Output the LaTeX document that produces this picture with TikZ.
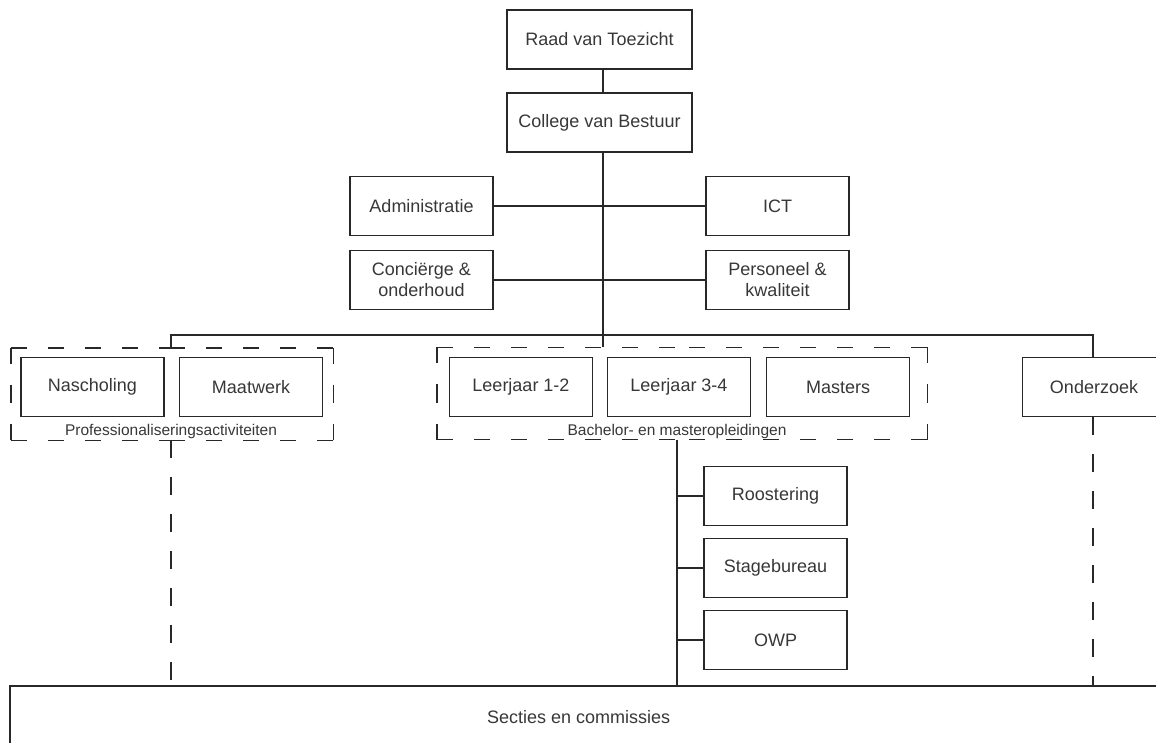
\documentclass[tikz,border=0pt]{standalone}
\usepackage{fontspec}
\setmainfont{Liberation Sans}
\definecolor{ln}{RGB}{40,40,40}
\definecolor{tx}{RGB}{55,55,55}
\begin{document}
\begin{tikzpicture}[x=1pt,y=-1pt,
  box/.style={draw=ln, line width=1.4pt, minimum width=143pt, minimum height=59pt, inner sep=0pt,
    align=center, text=tx, font=\fontsize{18}{21}\selectfont},
  wbox/.style={box, minimum width=185pt},
  grp/.style={draw=none, inner sep=0pt},
  gline/.style={draw=ln, line width=1.4pt, dash pattern=on 16pt off 21pt},
  lbl/.style={text=tx, font=\fontsize{15.5}{17}\selectfont, inner sep=0pt},
  conn/.style={draw=ln, line width=1.4pt},
  dconn/.style={conn, dash pattern=on 18pt off 19pt}]
\useasboundingbox (0,0) rectangle (1156,742);
\clip (0,0) rectangle (1156,742);
% top
\node[wbox] (raad) at (599.5,39.5) {Raad van Toezicht};
\node[wbox] (cvb) at (599.5,122.5) {College van Bestuur};
\node[box] (adm) at (421.5,206) {Administratie};
\node[box] (ict) at (777.5,206) {ICT};
\node[box] (conc) at (421.5,280) {Conciërge \&\\onderhoud};
\node[box] (pers) at (777.5,280) {Personeel \&\\kwaliteit};
% groups
\node[grp, minimum width=322pt, minimum height=92pt] (prof) at (172,394) {};
\node[grp, minimum width=490pt, minimum height=92pt] (bach) at (682,393.5) {};
\foreach \g in {prof,bach}{
  \draw[gline] (\g.north west) -- (\g.north);
  \draw[gline] (\g.north east) -- (\g.north);
  \draw[gline] (\g.south west) -- (\g.south);
  \draw[gline] (\g.south east) -- (\g.south);
  \draw[gline] (\g.north west) -- (\g.west);
  \draw[gline] (\g.south west) -- (\g.west);
  \draw[gline] (\g.north east) -- (\g.east);
  \draw[gline] (\g.south east) -- (\g.east);
}
\node[box] (nasch) at (92.5,387) {Nascholing};
\node[box] (maat) at (251,387) {Maatwerk};
\node[box] (l12) at (521,387) {Leerjaar 1-2};
\node[box] (l34) at (679,387) {Leerjaar 3-4};
\node[box] (mast) at (838,387) {Masters};
\node[box] (onder) at (1094,387) {Onderzoek};
\node[lbl] (proflbl) at (171,431) {Professionaliseringsactiviteiten};
\node[lbl] (bachlbl) at (677,431) {Bachelor- en masteropleidingen};
% support
\node[box] (roost) at (775.5,496) {Roostering};
\node[box] (stage) at (775.5,568) {Stagebureau};
\node[box] (owp) at (775.5,640) {OWP};
% bottom
\node[box, draw=none, anchor=north west, minimum width=1136pt, minimum height=60pt] (secties) at (10,686) {Secties en commissies};
\draw[conn] (secties.north west) ++(0,80) -- (secties.north west) -- ++(1170,0);
% coordinates
\coordinate (spine) at (603,0);
\coordinate (busL) at (171,335);
\coordinate (busR) at (1093,335);
\coordinate (trunk) at (677,0);
% connectors
\draw[conn] (raad.south -| spine) -- (cvb.north -| spine);
\draw[conn] (cvb.south -| spine) -- (bach.north -| spine);
\draw[conn] (adm.east) -- (ict.west);
\draw[conn] (conc.east) -- (pers.west);
\draw[conn] (prof.north -| busL) -- (busL) -- (busR) -- (onder.north -| busR);
\draw[dconn] (prof.south -| busL) -- (secties.north -| busL);
\draw[dconn] (onder.south -| busR) -- (secties.north -| busR);
\draw[conn] (bach.south -| trunk) -- (secties.north -| trunk);
\draw[conn] (roost.west -| trunk) -- (roost.west);
\draw[conn] (stage.west -| trunk) -- (stage.west);
\draw[conn] (owp.west -| trunk) -- (owp.west);
\end{tikzpicture}
\end{document}
